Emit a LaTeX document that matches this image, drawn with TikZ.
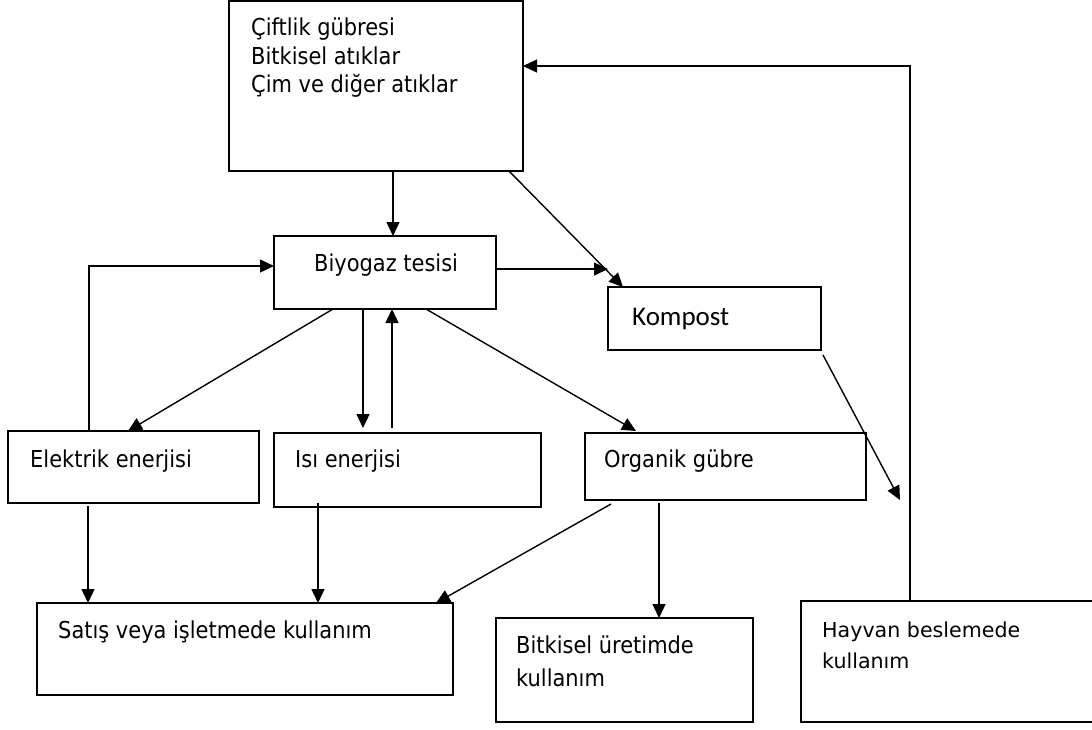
\documentclass[tikz,border=0pt]{standalone}
\usepackage{fontspec}
\setmainfont{DejaVu Sans Condensed}
\newfontfamily\verd{DejaVu Sans}
\newfontfamily\calib{Carlito}
\usetikzlibrary{arrows.meta,calc}
\begin{document}
\begin{tikzpicture}[x=1pt,y=-1pt,
  box/.style={draw, line width=1.5pt, inner sep=0pt, outer sep=0pt, anchor=north west},
  lbl/.style={anchor=base west, inner sep=0pt, font=\fontsize{23.3}{29}\selectfont},
  vlbl/.style={anchor=base west, inner sep=0pt, font=\verd\fontsize{20.6}{29}\selectfont},
  clbl/.style={anchor=base west, inner sep=0pt, font=\calib\fontsize{27}{32}\selectfont},
  arr/.style={line width=1.4pt, -{Triangle[length=14pt,width=13pt]}}]
\useasboundingbox (0,0) rectangle (1092,729);
% boxes
\node[box, minimum width=294pt, minimum height=170pt] (src) at (229,1) {};
\node[box, minimum width=222pt, minimum height=73pt] (bio) at (274,236) {};
\node[box, minimum width=213pt, minimum height=63pt] (komp) at (608,287) {};
\node[box, minimum width=251pt, minimum height=72pt] (elek) at (8,431) {};
\node[box, minimum width=267pt, minimum height=74pt] (isi) at (274,433) {};
\node[box, minimum width=281pt, minimum height=67pt] (org) at (585,433) {};
\node[box, minimum width=416pt, minimum height=92pt] (sat) at (37,603) {};
\node[box, minimum width=257pt, minimum height=104pt] (bit) at (496,618) {};
\node[box, minimum width=292pt, minimum height=121pt] (hay) at (801,601) {};
% labels
\node[lbl] (t1) at (251,35) {Çiftlik gübresi};
\node[lbl] (t2) at (251,64) {Bitkisel atıklar};
\node[lbl] (t3) at (251,92) {Çim ve diğer atıklar};
\node[lbl] (tb) at (314,271) {Biyogaz tesisi};
\node[clbl] (tk) at (632,325) {Kompost};
\node[lbl] (te) at (30,467) {Elektrik enerjisi};
\node[lbl] (ti) at (295,467) {Isı enerjisi};
\node[lbl] (to) at (604,467) {Organik gübre};
\node[lbl] (ts) at (58,638) {Satış veya işletmede kullanım};
\node[lbl] (tbu1) at (516,653) {Bitkisel üretimde};
\node[lbl] (tbu2) at (516,686) {kullanım};
\node[vlbl] (th1) at (822,637) {Hayvan beslemede};
\node[vlbl] (th2) at (822,668) {kullanım};
% connectors
\coordinate (kend) at (900,500);
\draw[arr] (393,0 |- src.south) -- (393,0 |- bio.north);
\draw[arr] (509,0 |- src.south) -- (623,0 |- komp.north);
\draw[arr] (bio.east |- 0,269) -- (komp.west |- 0,269);
\draw[arr] (333,0 |- bio.south) -- (128,431);
\draw[arr] (363,0 |- bio.south) -- (363,428);
\draw[arr] (392,428) -- (392,0 |- bio.south);
\draw[arr] (426,0 |- bio.south) -- (636,431);
\draw[arr] (89,0 |- elek.north) -- (89,266) -- (bio.west |- 0,266);
\draw[arr] (823,355) -- (kend);
\draw[arr] (910,0 |- hay.north) -- (910,66) -- (src.east |- 0,66);
\draw[arr] (88,506) -- (88,0 |- sat.north);
\draw[arr] (318,503) -- (318,0 |- sat.north);
\draw[arr] (611,504) -- (436,0 |- sat.north);
\draw[arr] (659,503) -- (659,0 |- bit.north);
\end{tikzpicture}
\end{document}
